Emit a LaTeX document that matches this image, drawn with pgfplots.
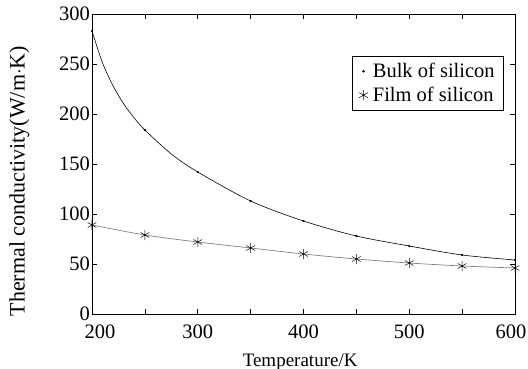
\documentclass[border=0pt]{standalone}
\usepackage{fontspec}
\setmainfont{Liberation Serif}
\usepackage{pgfplots}
\pgfplotsset{compat=1.18}
\begin{document}
\begin{tikzpicture}
\useasboundingbox (-92bp,-55bp) rectangle (436bp,314bp);
\begin{axis}[
  scale only axis,
  width=423bp, height=300bp,
  xmin=200, xmax=600, ymin=0, ymax=300,
  xtick={200,250,...,600},
  xticklabels={\hspace*{16bp}200,,300,,400,,500,,600\hspace*{8bp}},
  ytick={0,50,...,300},
  tick align=inside,
  major tick length=5bp,
  axis line style={line width=0.8bp},
  every tick/.style={black, line width=0.6bp},
  /pgf/number format/assume math mode=true,
  tick label style={font=\fontsize{20.5bp}{24bp}\selectfont},
  yticklabel style={inner sep=2bp},
  xticklabel style={inner sep=2bp, yshift=-9bp},
  every axis x label/.style={at={(axis description cs:0.492,0)}, yshift=-52bp, anchor=base},
  every axis y label/.style={at={(axis description cs:-0.172,0.443)}, rotate=90, anchor=center},
  xlabel={\fontsize{19bp}{22bp}\selectfont Temperature/K},
  ylabel={\fontsize{22bp}{24bp}\selectfont Thermal conductivity(W/m$\cdot$K)},
  legend style={at={(axis description cs:0.974,0.86)}, anchor=north east,
    draw=black, line width=0.6bp, font=\fontsize{20.5bp}{24bp}\selectfont,
    inner xsep=7bp, inner ysep=5bp, row sep=4bp,
    /tikz/every odd column/.append style={column sep=3bp}},
  legend cell align=left,
]
% bulk curve (line)
\addplot[black, line width=0.6bp, smooth, forget plot] coordinates {
 (200,283) (210,251) (220,228) (230,210) (240,196) (250,184) (275,160) (300,142) (350,113) (400,93) (450,78) (500,68) (550,59) (600,54)};
% bulk data points
\addplot[black, only marks, mark=*, mark size=0.9bp, forget plot] coordinates {
 (200,283) (250,184) (300,142) (350,113) (400,93) (450,78) (500,68) (550,59) (600,54)};
% film
\addplot[gray, line width=0.7bp, smooth, mark=asterisk, mark size=5bp, mark options={black, line width=0.5bp}, forget plot] coordinates {
 (200,89) (250,79) (300,72) (350,66) (400,60) (450,55) (500,51) (550,48) (600,46)};
\addlegendimage{only marks, mark=*, mark size=0.9bp, black}
\addlegendentry{Bulk of silicon}
\addlegendimage{only marks, mark=asterisk, mark size=5bp, black, mark options={line width=0.5bp}}
\addlegendentry{Film of silicon}
\end{axis}
\end{tikzpicture}
\end{document}
